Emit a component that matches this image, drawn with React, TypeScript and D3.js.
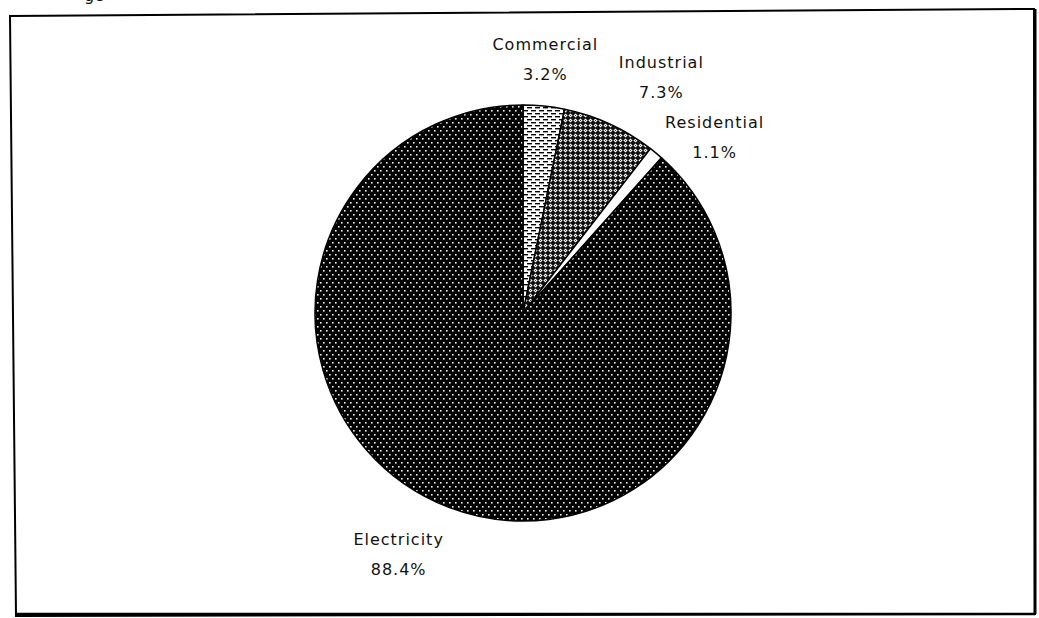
import React from "react";
import * as d3 from "d3";

const categories = ["Commercial", "Industrial", "Residential", "Electricity"];
const values = [3.2, 7.3, 1.1, 88.4];
const valueLabels = ["3.2%", "7.3%", "1.1%", "88.4%"];
const patternIds = ["patCommercial", "patIndustrial", "patResidential", "patElectricity"];

const W = 1039;
const H = 618;
const CX = 523;
const CY = 313;
const R = 208;
const LABEL_R = 262;
// small layout nudges (px) for label placement, per slice order
const labelNudge: [number, number][] = [
  [-4, -2],
  [29, -7],
  [24, 16],
  [-31, -13],
];

export default function App() {
  const pie = d3
    .pie<number>()
    .sort(null)
    .value((d) => d)
    .startAngle(0)
    .endAngle(2 * Math.PI);
  const arcs = pie(values);
  const arc = d3.arc<d3.PieArcDatum<number>>().innerRadius(0).outerRadius(R);

  return (
    <svg
      width={W}
      height={H}
      style={{ position: "fixed", left: 0, top: 0, background: "#fff" }}
    >
      <defs>
        <pattern id="patElectricity" patternUnits="userSpaceOnUse" width={6} height={8}>
          <rect width={6} height={8} fill="#000" />
          <rect x={1} y={1} width={1.6} height={1.6} fill="#f2f2f2" />
          <rect x={4} y={5} width={1.6} height={1.6} fill="#f2f2f2" />
        </pattern>
        <pattern id="patCommercial" patternUnits="userSpaceOnUse" width={8} height={6}>
          <rect width={8} height={6} fill="#fff" />
          <rect x={0} y={1} width={5} height={1.4} fill="#000" />
          <rect x={4} y={4} width={5} height={1.4} fill="#000" />
          <rect x={-4} y={4} width={5} height={1.4} fill="#000" />
        </pattern>
        <pattern id="patIndustrial" patternUnits="userSpaceOnUse" width={5} height={5}>
          <rect width={5} height={5} fill="#111" />
          <path d="M2.5,0.4 L4.6,2.5 L2.5,4.6 L0.4,2.5 Z" fill="#fff" />
          <rect x={2} y={2} width={1} height={1} fill="#444" />
        </pattern>
        <pattern id="patResidential" patternUnits="userSpaceOnUse" width={4} height={4}>
          <rect width={4} height={4} fill="#fff" />
        </pattern>
      </defs>

      {/* frame (slightly skewed like the scan) */}
      <path
        d={`M10,16 L1034,9 L1035,614 L16,616 Z`}
        fill="none"
        stroke="#000"
        strokeWidth={2}
      />
      <line x1={1035} y1={9} x2={1035} y2={614} stroke="#000" strokeWidth={3} />
      <line x1={16} y1={614} x2={1035} y2={614} stroke="#000" strokeWidth={2.5} />

      {/* cropped text fragment at the top */}
      <text
        x={84}
        y={1}
        fontFamily="DejaVu Sans, sans-serif"
        fontSize={16}
        fill="#111"
      >
        ge
      </text>

      <g transform={`translate(${CX},${CY})`}>
        {arcs.map((a, i) => (
          <path
            key={categories[i]}
            d={arc(a) || ""}
            fill={`url(#${patternIds[i]})`}
            stroke="#000"
            strokeWidth={1.5}
            strokeLinejoin="round"
          />
        ))}
      </g>

      {arcs.map((a, i) => {
        const mid = (a.startAngle + a.endAngle) / 2;
        const x = CX + Math.sin(mid) * LABEL_R + labelNudge[i][0];
        const y = CY - Math.cos(mid) * LABEL_R + labelNudge[i][1];
        return (
          <text
            key={categories[i]}
            x={x}
            y={y}
            textAnchor="middle"
            fontFamily="DejaVu Sans, sans-serif"
            fontSize={16}
            letterSpacing={1}
            fill="#111"
          >
            <tspan x={x} y={y}>
              {categories[i]}
            </tspan>
            <tspan x={x} y={y + 30}>
              {valueLabels[i]}
            </tspan>
          </text>
        );
      })}
    </svg>
  );
}
